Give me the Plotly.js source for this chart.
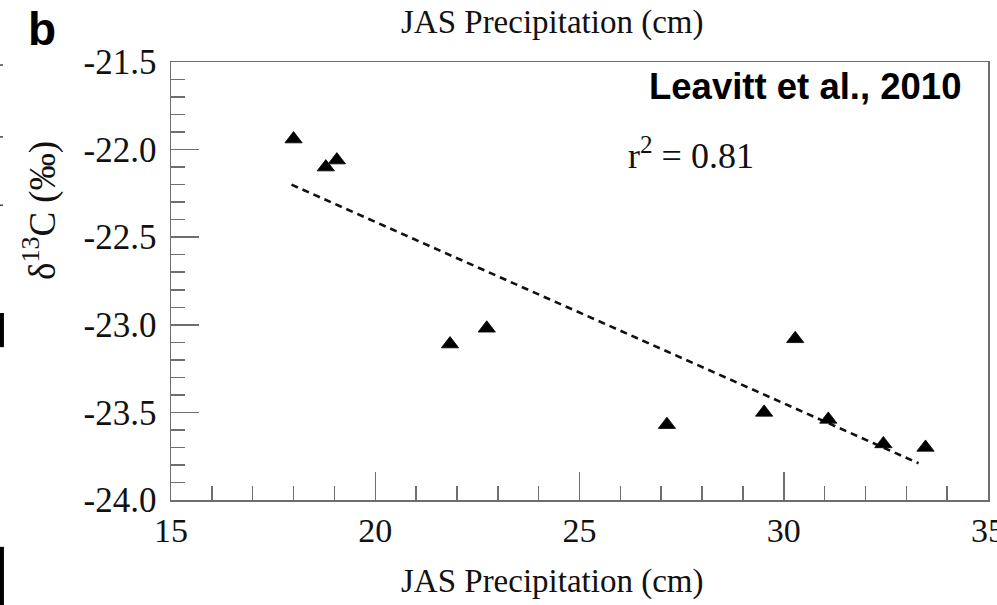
<!DOCTYPE html>
<html>
<head>
<meta charset="utf-8">
<script src="https://cdn.plot.ly/plotly-3.0.1.min.js"></script>
<style>html,body{margin:0;padding:0;background:#fff;}#chart{width:997px;height:605px;}</style>
</head>
<body>
<div id="chart"></div>
<script>
// JAS precipitation (cm) and delta13C (per mil)
const precip = [18.0, 18.79, 19.06, 21.83, 22.73, 27.14, 29.52, 30.28, 31.09, 32.44, 33.47];
const d13C   = [-21.94, -22.10, -22.06, -23.11, -23.02, -23.57, -23.50, -23.08, -23.54, -23.68, -23.70];
// regression line endpoints
const fitX = [17.95, 33.3];
const fitY = [-22.20, -23.79];
const xTicks = [15, 20, 25, 30, 35];
const yTicks = [-21.5, -22.0, -22.5, -23.0, -23.5, -24.0];

const serif = "Liberation Serif, Times New Roman, serif";
const sans = "Liberation Sans, Arial, sans-serif";
const axisCol = "#6e6e6e";

const traces = [
  {x: fitX, y: fitY, mode: "lines", type: "scatter",
   line: {color: "#111", width: 2.6, dash: "7px,5px"}, hoverinfo: "skip"},
  {x: precip, y: d13C, mode: "markers", type: "scatter",
   marker: {symbol: "triangle-up", size: 15, color: "#000", line: {color: "#000", width: 0.8}}}
];

const layout = {
  width: 997, height: 605,
  margin: {l: 171, r: 9, t: 62, b: 105},
  paper_bgcolor: "#fff", plot_bgcolor: "#fff",
  showlegend: false,
  font: {family: serif, color: "#111", size: 32},
  xaxis: {
    range: [15, 35], tickvals: xTicks, ticktext: xTicks.map(String),
    ticks: "inside", ticklen: 28, tickwidth: 1.5, tickcolor: axisCol,
    showline: true, linecolor: axisCol, linewidth: 1.5, mirror: true,
    showgrid: false, zeroline: false, ticklabeloverflow: "allow",
    tickfont: {family: serif, size: 34, color: "#111"},
    minor: {dtick: 1, ticks: "inside", ticklen: 14, tickwidth: 1.5, tickcolor: axisCol, showgrid: false}
  },
  yaxis: {
    range: [-24.0, -21.5], tickvals: yTicks, ticktext: yTicks.map(v => v.toFixed(1)),
    ticks: "inside", ticklen: 28, tickwidth: 1.5, tickcolor: axisCol,
    showline: true, linecolor: axisCol, linewidth: 1.5, mirror: true,
    showgrid: false, zeroline: false, ticklabelstandoff: 6, ticklabeloverflow: "allow",
    tickfont: {family: serif, size: 35, color: "#111"},
    minor: {dtick: 0.1, tick0: -24, ticks: "inside", ticklen: 14, tickwidth: 1.5, tickcolor: axisCol, showgrid: false}
  },
  annotations: [
    {text: "JAS Precipitation (cm)", xref: "paper", yref: "paper", x: 0.466, y: 1.0, yshift: 40,
     xanchor: "center", yanchor: "middle", showarrow: false, font: {family: serif, size: 33, color: "#111"}},
    {text: "JAS Precipitation (cm)", xref: "paper", yref: "paper", x: 0.466, y: 0, yshift: -81,
     xanchor: "center", yanchor: "middle", showarrow: false, font: {family: serif, size: 33, color: "#111"}},
    {text: "δ<sup>13</sup>C (‰)", xref: "paper", yref: "paper", x: 0, xshift: -131, y: 0.66, textangle: -90,
     xanchor: "center", yanchor: "middle", showarrow: false, font: {family: serif, size: 37, color: "#111"}},
    {text: "<b>b</b>", xref: "paper", yref: "paper", x: 0, xshift: -129, y: 1, yshift: 33,
     xanchor: "center", yanchor: "middle", showarrow: false, font: {family: sans, size: 46, color: "#000"}},
    {text: "<b>Leavitt et al., 2010</b>", xref: "paper", yref: "paper", x: 0.9697, y: 0.945,
     xanchor: "right", yanchor: "middle", showarrow: false, font: {family: sans, size: 36.5, color: "#000"}},
    {text: "r<sup>2</sup> = 0.81", xref: "paper", yref: "paper", x: 0.557, y: 0.79,
     xanchor: "left", yanchor: "middle", showarrow: false, font: {family: serif, size: 36, color: "#111"}}
  ],
  shapes: [
    {type: "rect", xref: "paper", yref: "paper", x0: -0.2094, x1: -0.2045, y0: 0.349, y1: 0.427, fillcolor: "#000", line: {width: 0}},
    {type: "rect", xref: "paper", yref: "paper", x0: -0.2094, x1: -0.2045, y0: -0.25, y1: -0.107, fillcolor: "#000", line: {width: 0}},
    {type: "line", xref: "paper", yref: "paper", x0: -0.2094, x1: -0.2057, y0: 0.993, y1: 0.993, line: {color: "#444", width: 1.5}},
    {type: "line", xref: "paper", yref: "paper", x0: -0.2094, x1: -0.2057, y0: 0.829, y1: 0.829, line: {color: "#444", width: 1.5}},
    {type: "line", xref: "paper", yref: "paper", x0: -0.2094, x1: -0.2057, y0: 0.673, y1: 0.673, line: {color: "#444", width: 1.5}}
  ]
};

Plotly.newPlot("chart", traces, layout, {displayModeBar: false, staticPlot: true});
</script>
</body>
</html>
